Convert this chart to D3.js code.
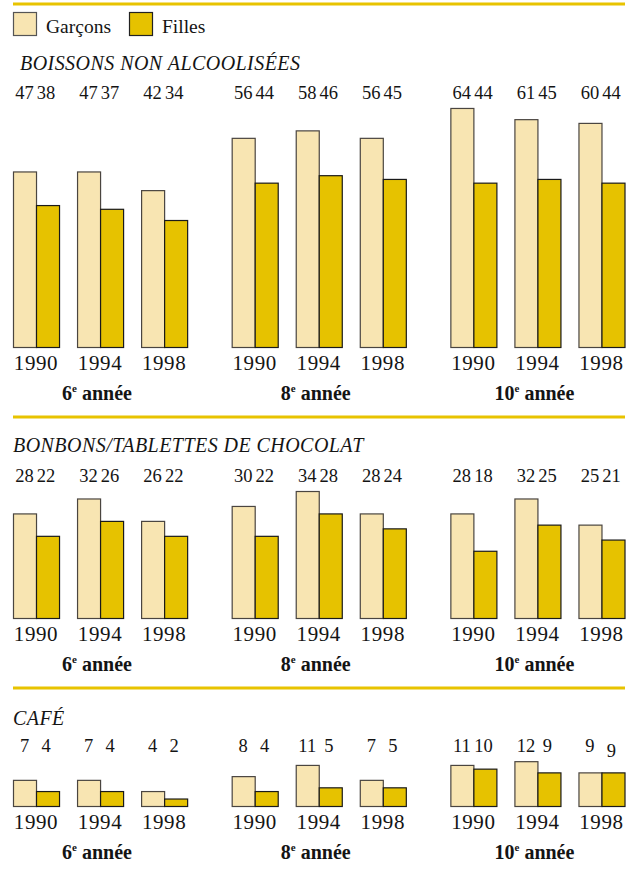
<!DOCTYPE html>
<html>
<head>
<meta charset="utf-8">
<script src="https://cdn.jsdelivr.net/npm/d3@7"></script>
<style>
  html, body { margin: 0; padding: 0; background: #fff; }
  svg { display: block; }
</style>
</head>
<body>
<script>
// Grades and survey years
const grades = ["6", "8", "10"];
const years = ["1990", "1994", "1998"];
const seriesNames = ["Garçons", "Filles"];

// Percentages, ordered grade by grade, then year
const boissonsGarcons = [47, 47, 42, 56, 58, 56, 64, 61, 60];
const boissonsFilles  = [38, 37, 34, 44, 46, 45, 44, 45, 44];
const bonbonsGarcons  = [28, 32, 26, 30, 34, 28, 28, 32, 25];
const bonbonsFilles   = [22, 26, 22, 22, 28, 24, 18, 25, 21];
const cafeGarcons     = [7, 7, 4, 8, 11, 7, 11, 12, 9];
const cafeFilles      = [4, 4, 2, 4, 5, 5, 10, 9, 9];

const panelTitles = ["BOISSONS NON ALCOOLISÉES", "BONBONS/TABLETTES DE CHOCOLAT", "CAFÉ"];

const W = 632, H = 871;
const FONT = "'Liberation Serif'";
const COL_LIGHT = "#f8e5b2";
const COL_DARK = "#e6c200";
const COL_RULE = "#e8c300";

const svg = d3.select("body").append("svg").attr("width", W).attr("height", H);

// Every label uses the same serif face
const addText = (sel) => sel.append("text").style("font-family", FONT).attr("fill", "#141414");

// Horizontal layout: grade groups, years within a group, sexes within a year
const xGrade = d3.scaleBand().domain(grades).range([13, 624.5]).paddingInner(0.2037).paddingOuter(0);
const xYear = d3.scaleBand().domain(years).range([0, xGrade.bandwidth()]).paddingInner(0.28125).paddingOuter(0);
const xSex = d3.scaleBand().domain(seriesNames).range([0, xYear.bandwidth()]).padding(0);

// Bar height per percentage point (shared by all panels)
const hScale = d3.scaleLinear().domain([0, 100]).range([0, 373.5]);

// Top rule and legend
svg.append("line").attr("x1", 13).attr("x2", 625).attr("y1", 4).attr("y2", 4)
  .attr("stroke", COL_RULE).attr("stroke-width", 3);

const legend = svg.append("g");
[[13, COL_LIGHT, "#555", 46], [129, COL_DARK, "#222", 162]].forEach(([x, fill, stroke, tx], i) => {
  legend.append("rect").attr("x", x + 0.5).attr("y", 12.5).attr("width", 23).attr("height", 23)
    .attr("fill", fill).attr("stroke", stroke).attr("stroke-width", 1.2);
  addText(legend).attr("x", tx).attr("y", 33).attr("font-size", 19.5).text(seriesNames[i]);
});

const panels = [
  { title: panelTitles[0], titleX: 20, rule: null, titleY: 69.5, labelY: 99, base: 347, g: boissonsGarcons, f: boissonsFilles },
  { title: panelTitles[1], titleX: 13, rule: 417, titleY: 452, labelY: 481.5, base: 618, g: bonbonsGarcons, f: bonbonsFilles },
  { title: panelTitles[2], titleX: 13, rule: 688, titleY: 725, labelY: 752, base: 806, g: cafeGarcons, f: cafeFilles }
];

panels.forEach((p, pi) => {
  const g = svg.append("g");
  if (p.rule !== null) {
    g.append("line").attr("x1", 13).attr("x2", 625).attr("y1", p.rule).attr("y2", p.rule)
      .attr("stroke", COL_RULE).attr("stroke-width", 3);
  }
  addText(g).attr("x", p.titleX).attr("y", p.titleY)
    .attr("font-size", 20).attr("letter-spacing", 0.45).style("font-style", "italic")
    .text(p.title);

  const rows = [];
  grades.forEach((gr, gi) => years.forEach((yr, yi) => {
    const k = gi * 3 + yi;
    rows.push({ grade: gr, year: yr, sex: seriesNames[0], v: p.g[k], k });
    rows.push({ grade: gr, year: yr, sex: seriesNames[1], v: p.f[k], k });
  }));
  const xOf = d => xGrade(d.grade) + xYear(d.year) + xSex(d.sex);

  g.selectAll("rect.bar").data(rows).join("rect")
    .attr("class", "bar")
    .attr("x", d => xOf(d) + 0.5)
    .attr("y", d => p.base - hScale(d.v) + 0.5)
    .attr("width", xSex.bandwidth())
    .attr("height", d => hScale(d.v))
    .attr("fill", d => d.sex === seriesNames[0] ? COL_LIGHT : COL_DARK)
    .attr("stroke", d => d.sex === seriesNames[0] ? "#4a4540" : "#1a1a1a")
    .attr("stroke-width", 1.2);

  // Value labels on one line above each pair
  g.selectAll("text.val").data(rows).join("text")
    .attr("class", "val")
    .style("font-family", FONT).attr("fill", "#141414")
    .attr("x", d => xOf(d) + xSex.bandwidth() / 2 + (d.sex === seriesNames[0] ? 0 : -1.5))
    .attr("y", d => p.labelY + (pi === 2 && d.k === 8 && d.sex === seriesNames[1] ? 4.5 : 0))
    .attr("text-anchor", "middle").attr("font-size", 18.5)
    .text(d => d.v);

  // Year labels under each pair
  grades.forEach(gr => years.forEach(yr => {
    addText(g)
      .attr("x", xGrade(gr) + xYear(yr) + xYear.bandwidth() / 2)
      .attr("y", p.base + 23)
      .attr("text-anchor", "middle").attr("font-size", 21).attr("letter-spacing", 0.6)
      .text(yr);
  }));

  // Grade labels
  grades.forEach(gr => {
    const t = addText(g)
      .attr("x", xGrade(gr) + xGrade.bandwidth() / 2 - 3)
      .attr("y", p.base + 53)
      .attr("text-anchor", "middle").attr("font-size", 20).style("font-weight", "bold");
    t.append("tspan").text(gr);
    t.append("tspan").attr("font-size", 11).attr("dy", -8).text("e");
    t.append("tspan").attr("dy", 8).text(" année");
  });
});
</script>
</body>
</html>
